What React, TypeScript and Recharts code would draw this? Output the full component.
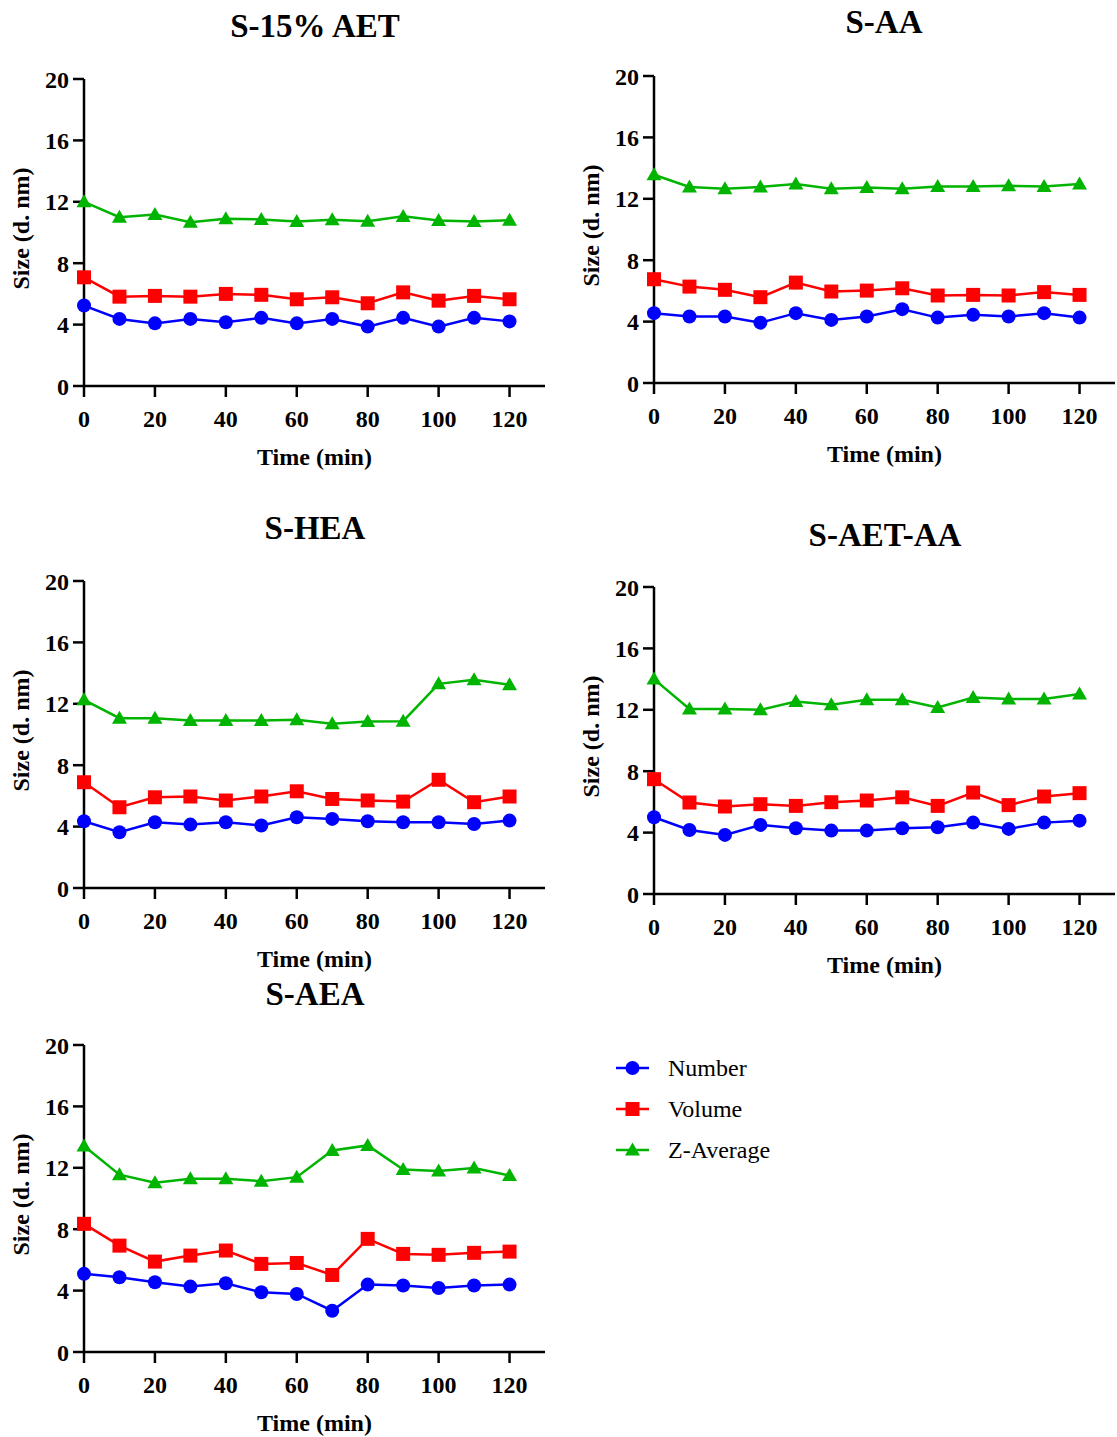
import React from "react";
import { LineChart, Line, XAxis, YAxis, Label } from "recharts";

// Sampling times (min)
const times = [0, 10, 20, 30, 40, 50, 60, 70, 80, 90, 100, 110, 120];
const xTicks = [0, 20, 40, 60, 80, 100, 120];
const yTicks = [0, 4, 8, 12, 16, 20];

// S-15% AET
const aetNumber = [5.24, 4.37, 4.08, 4.37, 4.15, 4.44, 4.08, 4.37, 3.87, 4.44, 3.87, 4.44, 4.21];
const aetVolume = [7.08, 5.82, 5.87, 5.82, 6.0, 5.94, 5.65, 5.78, 5.39, 6.1, 5.56, 5.87, 5.65];
const aetZAvg = [12.0, 11.0, 11.17, 10.67, 10.9, 10.85, 10.72, 10.83, 10.74, 11.05, 10.78, 10.72, 10.8];

// S-AA
const aaNumber = [4.55, 4.33, 4.33, 3.93, 4.55, 4.11, 4.33, 4.81, 4.26, 4.44, 4.33, 4.55, 4.26];
const aaVolume = [6.76, 6.28, 6.07, 5.59, 6.54, 5.96, 6.02, 6.17, 5.7, 5.74, 5.7, 5.92, 5.74];
const aaZAvg = [13.57, 12.77, 12.65, 12.77, 12.96, 12.65, 12.74, 12.65, 12.8, 12.8, 12.85, 12.8, 12.96];

// S-HEA
const heaNumber = [4.35, 3.63, 4.28, 4.13, 4.28, 4.07, 4.61, 4.5, 4.35, 4.28, 4.28, 4.17, 4.39];
const heaVolume = [6.89, 5.26, 5.91, 5.96, 5.7, 5.96, 6.3, 5.8, 5.7, 5.63, 7.05, 5.59, 5.96];
const heaZAvg = [12.26, 11.06, 11.06, 10.91, 10.91, 10.91, 10.96, 10.7, 10.85, 10.87, 13.3, 13.57, 13.24];

// S-AET-AA
const aetAaNumber = [5.0, 4.17, 3.85, 4.5, 4.28, 4.13, 4.13, 4.28, 4.35, 4.65, 4.24, 4.65, 4.78];
const aetAaVolume = [7.48, 5.96, 5.7, 5.85, 5.74, 5.98, 6.09, 6.3, 5.74, 6.61, 5.79, 6.35, 6.57];
const aetAaZAvg = [14.0, 12.05, 12.05, 12.0, 12.54, 12.33, 12.65, 12.65, 12.15, 12.8, 12.7, 12.7, 13.03];

// S-AEA
const aeaNumber = [5.09, 4.87, 4.54, 4.26, 4.48, 3.89, 3.78, 2.69, 4.39, 4.33, 4.17, 4.33, 4.39];
const aeaVolume = [8.35, 6.93, 5.89, 6.28, 6.61, 5.74, 5.8, 5.02, 7.37, 6.39, 6.33, 6.46, 6.54];
const aeaZAvg = [13.42, 11.55, 11.02, 11.28, 11.28, 11.13, 11.39, 13.13, 13.46, 11.89, 11.79, 11.98, 11.5];

const seriesNames = ["Number", "Volume", "Z-Average"];
const seriesKeys = ["number", "volume", "zavg"];
const seriesColors = ["#0000FF", "#FF0000", "#00B400"];
const seriesShapes = ["circle", "square", "triangle"];

const FONT = '"Liberation Serif", "Times New Roman", serif';

type Panel = {
  title: string;
  left: number;
  plotTop: number;
  titleX: number;
  titleY: number;
  number: number[];
  volume: number[];
  zavg: number[];
};

const panels: Panel[] = [
  { title: "S-15% AET", left: 0, plotTop: 79, titleX: 315, titleY: 37, number: aetNumber, volume: aetVolume, zavg: aetZAvg },
  { title: "S-AA", left: 570, plotTop: 76, titleX: 884, titleY: 33, number: aaNumber, volume: aaVolume, zavg: aaZAvg },
  { title: "S-HEA", left: 0, plotTop: 581, titleX: 315, titleY: 539, number: heaNumber, volume: heaVolume, zavg: heaZAvg },
  { title: "S-AET-AA", left: 570, plotTop: 587, titleX: 885, titleY: 546, number: aetAaNumber, volume: aetAaVolume, zavg: aetAaZAvg },
  { title: "S-AEA", left: 0, plotTop: 1045, titleX: 315, titleY: 1005, number: aeaNumber, volume: aeaVolume, zavg: aeaZAvg },
];

const CHART_W = 547;
const MARGIN_TOP = 22;
const PLOT_H = 307;
const XAXIS_H = 90;
const YAXIS_W = 84;

function Marker({ shape, cx, cy, color }: { shape: string; cx: number; cy: number; color: string }) {
  if (cx == null || cy == null) return null;
  if (shape === "square") {
    return <rect x={cx - 7} y={cy - 7} width={14} height={14} fill={color} stroke="none" />;
  }
  if (shape === "triangle") {
    return (
      <polygon
        points={`${cx},${cy - 7.5} ${cx + 7.5},${cy + 5.5} ${cx - 7.5},${cy + 5.5}`}
        fill={color}
        stroke="none"
      />
    );
  }
  return <circle cx={cx} cy={cy} r={7} fill={color} stroke="none" />;
}

function makeDot(shape: string, color: string) {
  return (props: any) => (
    <Marker key={`${shape}-${props.index}`} shape={shape} cx={props.cx} cy={props.cy} color={color} />
  );
}

const tickStyle = { fontFamily: FONT, fontSize: 24, fontWeight: "bold", fill: "#000" };

function YLabel({ viewBox }: any) {
  const cy = viewBox.y + viewBox.height / 2 - 4;
  const x = viewBox.x + 29;
  return (
    <text
      x={x}
      y={cy}
      transform={`rotate(-90, ${x}, ${cy})`}
      textAnchor="middle"
      style={{ fontFamily: FONT, fontSize: 24, fontWeight: "bold", fill: "#000" }}
    >
      Size (d. nm)
    </text>
  );
}

function SizePanel({ p }: { p: Panel }) {
  const rows = times.map((t, i) => ({ time: t, number: p.number[i], volume: p.volume[i], zavg: p.zavg[i] }));
  return (
    <div style={{ position: "absolute", left: p.left, top: p.plotTop - MARGIN_TOP }}>
      <LineChart
        width={CHART_W}
        height={MARGIN_TOP + PLOT_H + XAXIS_H}
        data={rows}
        margin={{ top: MARGIN_TOP, right: 2, bottom: 0, left: 0 }}
      >
        <XAxis
          type="number"
          dataKey="time"
          domain={[0, 130]}
          ticks={xTicks}
          interval={0}
          height={XAXIS_H}
          tickSize={11}
          tickMargin={13}
          axisLine={{ stroke: "#000", strokeWidth: 2.5 }}
          tickLine={{ stroke: "#000", strokeWidth: 2.5 }}
          tick={tickStyle}
        >
          <Label
            value="Time (min)"
            position="insideBottom"
            offset={11}
            style={{ fontFamily: FONT, fontSize: 24, fontWeight: "bold", fill: "#000" }}
          />
        </XAxis>
        <YAxis
          type="number"
          domain={[0, 20]}
          ticks={yTicks}
          interval={0}
          width={YAXIS_W}
          tickSize={11}
          tickMargin={4}
          axisLine={{ stroke: "#000", strokeWidth: 2.5 }}
          tickLine={{ stroke: "#000", strokeWidth: 2.5 }}
          tick={tickStyle}
        >
          <Label content={<YLabel />} />
        </YAxis>
        {seriesKeys.map((k, i) => (
          <Line
            key={k}
            type="linear"
            dataKey={k}
            name={seriesNames[i]}
            stroke={seriesColors[i]}
            strokeWidth={2.5}
            dot={makeDot(seriesShapes[i], seriesColors[i])}
            activeDot={false}
            isAnimationActive={false}
          />
        ))}
      </LineChart>
    </div>
  );
}

export default function App() {
  return (
    <div style={{ position: "absolute", left: 0, top: 0, width: 1117, height: 1437, background: "#fff" }}>
      {panels.map((p) => (
        <SizePanel key={p.title} p={p} />
      ))}
      <svg
        width={1117}
        height={1437}
        style={{ position: "absolute", left: 0, top: 0, pointerEvents: "none" }}
      >
        {panels.map((p) => (
          <text
            key={p.title}
            x={p.titleX}
            y={p.titleY}
            textAnchor="middle"
            style={{ fontFamily: FONT, fontSize: 33, fontWeight: "bold", fill: "#000" }}
          >
            {p.title}
          </text>
        ))}
        {seriesNames.map((name, i) => {
          const cy = 1068 + i * 41;
          return (
            <g key={name}>
              <line x1={616} x2={649} y1={cy} y2={cy} stroke={seriesColors[i]} strokeWidth={2.5} />
              <Marker shape={seriesShapes[i]} cx={632.5} cy={cy} color={seriesColors[i]} />
              <text x={668} y={cy + 8} style={{ fontFamily: FONT, fontSize: 24, fill: "#000" }}>
                {name}
              </text>
            </g>
          );
        })}
      </svg>
    </div>
  );
}
